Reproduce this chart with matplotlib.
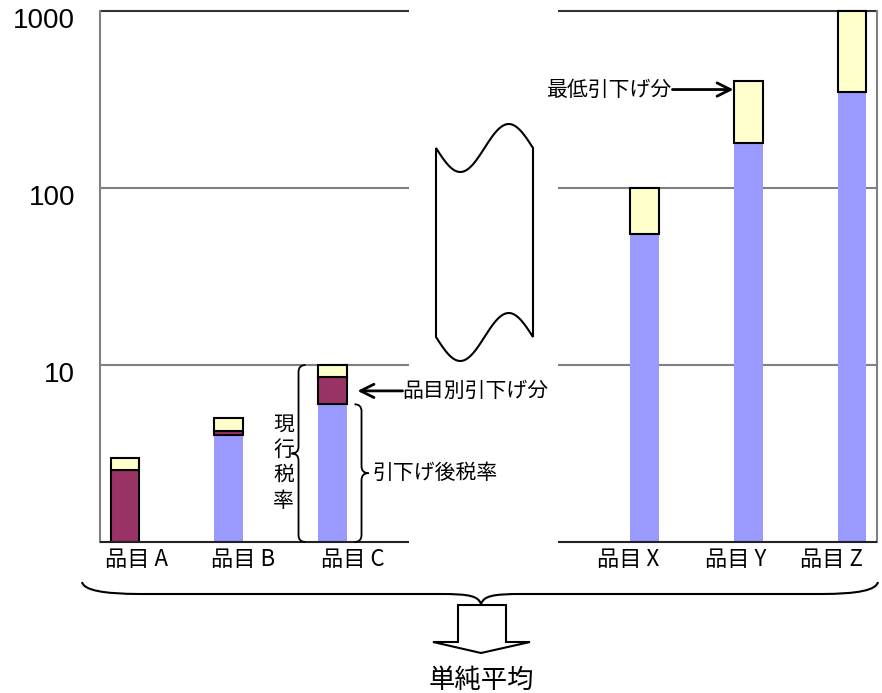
import numpy as np
import matplotlib.pyplot as plt
from matplotlib.path import Path
from matplotlib.patches import PathPatch, Polygon, FancyArrowPatch
from matplotlib.transforms import Affine2D, ScaledTranslation
from matplotlib.ticker import NullLocator

plt.rcParams['font.family'] = ['Noto Sans CJK JP', 'DejaVu Sans']

W, H = 882, 693

# items and tariff rates (log scale, %)
items = ['品目 A', '品目 B', '品目 C', '品目 X', '品目 Y', '品目 Z']
xpos = [0, 1, 2, 5, 6, 7]
current_rate = [3, 5, 10, 100, 400, 1000]
after_min_cut = [2.55, 4.25, 8.5, 55, 180, 350]
after_cut = [0, 4.0, 6.0, 55, 180, 350]
yticks = [10, 100, 1000]
ytick_labels = ['10', '100', '1000']

BLUE, PLUM, CREAM = '#9999ff', '#993366', '#ffffcc'

fig = plt.figure(figsize=(W / 100, H / 100), dpi=100)
ax = fig.add_axes([100 / W, 1 - 542 / H, 777 / W, 531 / H])
ax.set_yscale('log')
ax.set_ylim(1, 1000)
x0, x1 = -0.236, 7.236
ax.set_xlim(x0, x1)

base = 1.0
x = np.array(xpos, float)
cur = np.array(current_rate, float)
mid = np.array(after_min_cut, float)
fin = np.clip(np.array(after_cut, float), base, None)
bw = 0.27

ax.bar(x, fin - base, bottom=base, width=bw, color=BLUE, zorder=2)
has = mid > fin
ax.bar(x[has], (mid - fin)[has], bottom=fin[has], width=bw, color=PLUM,
       edgecolor='black', linewidth=1.5, zorder=3)
ax.bar(x, cur - mid, bottom=mid, width=bw, color=CREAM, edgecolor='black',
       linewidth=1.5, zorder=3, clip_on=False)

# gridlines broken in the middle
left_end, right_start = 2.736, 4.168
for v in yticks:
    c = '#333333' if v == 1000 else '#808080'
    for a, b in [(x0, left_end), (right_start, x1)]:
        ax.hlines(v, a, b, color=c, linewidth=1.5, zorder=1, clip_on=False)
for a, b in [(x0, left_end), (right_start, x1)]:
    ax.hlines(1, a, b, color='#222222', linewidth=1.5, zorder=4, clip_on=False)

for s in ['top', 'bottom']:
    ax.spines[s].set_visible(False)
for s in ['left', 'right']:
    ax.spines[s].set_color('#808080')
    ax.spines[s].set_linewidth(1.5)

ax.set_yticks(yticks)
ax.set_yticklabels(ytick_labels, family='Liberation Sans', fontsize=20)
ax.yaxis.set_minor_locator(NullLocator())
ax.set_xticks(xpos)
ax.set_xticklabels(items, fontsize=16)
ax.tick_params(axis='y', length=0, pad=18)
ax.tick_params(axis='x', length=0, pad=2)
for lab in ax.get_yticklabels():
    lab.set_transform(lab.get_transform() + ScaledTranslation(0, -0.07, fig.dpi_scale_trans))
# category labels sit a little off the bar centres
label_shift = [12, 15, 20, -16, -13, -21]
for lab, dx in zip(ax.get_xticklabels(), label_shift):
    lab.set_transform(lab.get_transform() + ScaledTranslation(dx / 100, -0.03, fig.dpi_scale_trans))

# pixel helpers (y measured downward from the top)
pxT = Affine2D().scale(1, -1).translate(0, H)


def to_px(xd, yd):
    dx, dy = ax.transData.transform((xd, yd))
    return dx, H - dy


def brace(xb, yt, yb, s, c=7, t=7, ym=None):
    if ym is None:
        ym = (yt + yb) / 2
    verts = [(xb + s * c, yt), (xb, yt), (xb, yt + c),
             (xb, ym - c), (xb, ym), (xb - s * t, ym),
             (xb, ym), (xb, ym + c),
             (xb, yb - c), (xb, yb), (xb + s * c, yb)]
    codes = [Path.MOVETO, Path.CURVE3, Path.CURVE3, Path.LINETO,
             Path.CURVE3, Path.CURVE3, Path.CURVE3, Path.CURVE3,
             Path.LINETO, Path.CURVE3, Path.CURVE3]
    fig.add_artist(PathPatch(Path(verts, codes), transform=pxT, fill=False,
                             edgecolor='black', linewidth=1.3))


def arrow(tail, head):
    fig.add_artist(FancyArrowPatch(tail, head, transform=pxT, arrowstyle='->',
                                   mutation_scale=24, linewidth=2, color='black',
                                   shrinkA=0, shrinkB=0))


def label(px, py, s, **kw):
    fig.add_artist(plt.Text(px, py, s, transform=pxT, **kw))


# annotations on 品目C
cx, y_top = to_px(x[2], cur[2])
_, y_base = to_px(x[2], base)
_, y_fin = to_px(x[2], fin[2])
_, y_cut = to_px(x[2], np.sqrt(fin[2] * mid[2]))
brace(cx - 34, y_top, y_base, 1)
label(cx - 49, (y_top + y_base) / 2 + 9, '現\n行\n税\n率', fontsize=15,
      ha='center', va='center', linespacing=1.2)
brace(cx + 29, y_fin, y_base, -1)
label(cx + 40, (y_fin + y_base) / 2, '引下げ後税率', fontsize=15, ha='left', va='center')
arrow((cx + 70, y_cut), (cx + 25, y_cut))
label(cx + 70, y_cut, '品目別引下げ分', fontsize=15, ha='left', va='center')

# annotation on 品目Y
yx, yy = to_px(x[4], cur[4] * 0.9)
arrow((yx - 76, yy), (yx - 15, yy))
label(yx - 76, yy, '最低引下げ分', fontsize=15, ha='right', va='center')

# axis break symbol
t = np.linspace(436, 533, 60)
wave = 24 * np.sin(np.pi * (t - 436) / 48.5)
top = np.column_stack([t, 148 + wave])
bot = np.column_stack([t[::-1], 337 + wave[::-1]])
fig.add_artist(Polygon(np.vstack([top, bot]), closed=True, transform=pxT,
                       facecolor='white', edgecolor='black', linewidth=1.5))

# bottom brace, block arrow and caption
bverts = [(82, 582), (84, 594), (140, 594), (440, 594), (470, 594), (478, 596),
          (481, 604), (484, 596), (492, 594), (522, 594), (822, 594),
          (876, 594), (878, 582)]
bcodes = [Path.MOVETO, Path.CURVE3, Path.CURVE3, Path.LINETO, Path.CURVE4,
          Path.CURVE4, Path.CURVE4, Path.CURVE4, Path.CURVE4, Path.CURVE4,
          Path.LINETO, Path.CURVE3, Path.CURVE3]
fig.add_artist(PathPatch(Path(bverts, bcodes), transform=pxT, fill=False,
                         edgecolor='black', linewidth=1.5))
fig.add_artist(Polygon([(458, 605), (506, 605), (506, 642), (530, 642),
                        (481, 653), (433, 642), (458, 642)], closed=True,
                       transform=pxT, facecolor='white', edgecolor='black',
                       linewidth=1.5))
label(481, 680, '単純平均', fontsize=19, ha='center', va='center')

fig.savefig('out.png', dpi=100)
